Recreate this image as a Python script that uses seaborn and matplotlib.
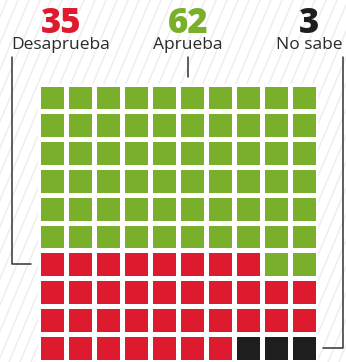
import numpy as np
import pandas as pd
import matplotlib
matplotlib.use("Agg")
import matplotlib.pyplot as plt
from matplotlib.colors import ListedColormap
import seaborn as sns

# Survey result: share of answers (out of 100)
categories = ["Desaprueba", "Aprueba", "No sabe"]
values = [35, 62, 3]
colors = ["#de1a2e", "#7aaf2c", "#1e1e1e"]

W, H = 346, 362
DPI = 100
sns.set_theme(style="white")
plt.rcParams["font.family"] = ["Open Sans", "DejaVu Sans"]

# --- build the 10x10 waffle grid -------------------------------------------
n = 10
red_i, green_i, black_i = 0, 1, 2
grid = np.full((n, n), red_i)
n_green = values[green_i]
full_rows, extra = divmod(n_green, n)
grid[:full_rows, :] = green_i
if extra:
    grid[full_rows, n - extra:] = green_i
n_black = values[black_i]
grid[n - 1, n - n_black:] = black_i
df = pd.DataFrame(grid)

fig = plt.figure(figsize=(W / DPI, H / DPI), dpi=DPI)
fig.patch.set_facecolor("white")

# background / annotation layer in pixel coordinates
bg = fig.add_axes([0, 0, 1, 1])
bg.set_xlim(0, W)
bg.set_ylim(H, 0)
bg.axis("off")

# faint diagonal hatching
for x0 in np.arange(-200, W + 40, 11):
    bg.plot([x0, x0 + 0.42 * H], [H, 0], color="#eeeeee", lw=1.1, zorder=0,
            solid_capstyle="butt")

# waffle axes (pixel box of the grid, padded by half a gap)
gx0, gx1, gy0, gy1 = 37.5, 317.5, 83.5, 361.5
ax = fig.add_axes([gx0 / W, 1 - gy1 / H, (gx1 - gx0) / W, (gy1 - gy0) / H])
sns.heatmap(df, ax=ax, cmap=ListedColormap(colors), vmin=-0.5, vmax=2.5,
            cbar=False, linewidths=2.3, linecolor="white", square=False,
            xticklabels=False, yticklabels=False)
ax.axis("off")

# --- labels ---------------------------------------------------------------
label_pos = {"Desaprueba": 61, "Aprueba": 188, "No sabe": 309}
for i, cat in enumerate(categories):
    cx = label_pos[cat]
    bg.text(cx, 33, f"{values[i]}", ha="center", va="baseline",
            fontsize=25, fontweight="heavy", color=colors[i], zorder=3)
    bg.text(cx, 49, cat, ha="center", va="baseline", fontsize=12.5,
            color="#2a2a2a", zorder=3)

# leader lines
lc = "#333333"
lw = 1.1
bg.plot([12, 12, 31], [57, 264, 264], color=lc, lw=lw, zorder=2)
bg.plot([188, 188], [57, 77], color=lc, lw=lw, zorder=2)
bg.plot([343, 343, 323], [57, 348, 348], color=lc, lw=lw, zorder=2)

fig.savefig("out.png", dpi=DPI, facecolor="white")
